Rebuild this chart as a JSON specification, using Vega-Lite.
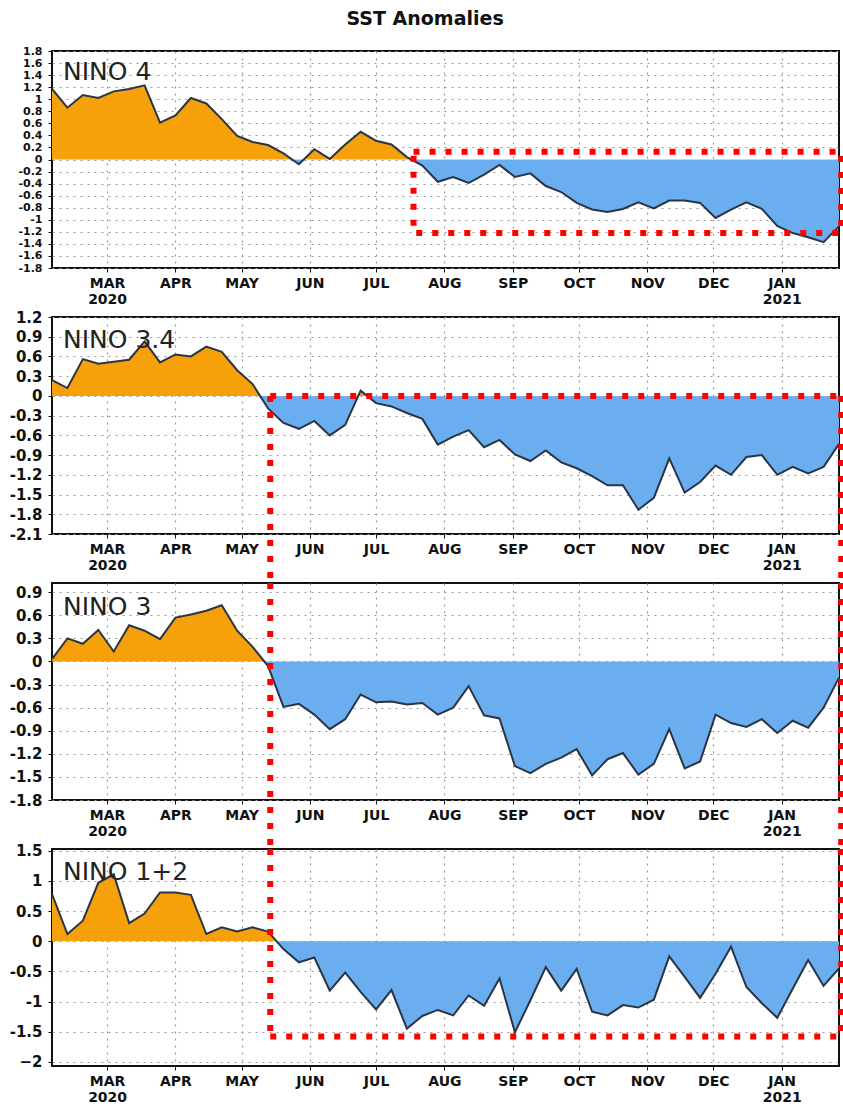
{
  "$schema": "https://vega.github.io/schema/vega-lite/v6.json",
  "padding": {"left": 5, "top": 10, "right": 0, "bottom": 0},
  "background": "white",
  "title": {"text": "SST Anomalies", "anchor": "middle", "fontSize": 19, "font": "DejaVu Sans", "fontWeight": "bold", "color": "#111", "offset": 15},
  "bounds": "flush",
  "spacing": 49,
  "datasets": {
    "n4": [
      {"date": "2020-02-05T00:00:00", "v": 1.17}, {"date": "2020-02-12T00:00:00", "v": 0.86}, {"date": "2020-02-19T00:00:00", "v": 1.07}, {"date": "2020-02-26T00:00:00", "v": 1.02},
      {"date": "2020-03-04T00:00:00", "v": 1.13}, {"date": "2020-03-11T00:00:00", "v": 1.17}, {"date": "2020-03-18T00:00:00", "v": 1.23}, {"date": "2020-03-25T00:00:00", "v": 0.61},
      {"date": "2020-04-01T00:00:00", "v": 0.73}, {"date": "2020-04-08T00:00:00", "v": 1.02}, {"date": "2020-04-15T00:00:00", "v": 0.93}, {"date": "2020-04-22T00:00:00", "v": 0.67},
      {"date": "2020-04-29T00:00:00", "v": 0.39}, {"date": "2020-05-06T00:00:00", "v": 0.29}, {"date": "2020-05-13T00:00:00", "v": 0.24}, {"date": "2020-05-20T00:00:00", "v": 0.10},
      {"date": "2020-05-27T00:00:00", "v": -0.08}, {"date": "2020-06-03T00:00:00", "v": 0.17}, {"date": "2020-06-10T00:00:00", "v": 0.01}, {"date": "2020-06-17T00:00:00", "v": 0.25},
      {"date": "2020-06-24T00:00:00", "v": 0.46}, {"date": "2020-07-01T00:00:00", "v": 0.31}, {"date": "2020-07-08T00:00:00", "v": 0.25}, {"date": "2020-07-15T00:00:00", "v": 0.04},
      {"date": "2020-07-22T00:00:00", "v": -0.10}, {"date": "2020-07-29T00:00:00", "v": -0.37}, {"date": "2020-08-05T00:00:00", "v": -0.29}, {"date": "2020-08-12T00:00:00", "v": -0.39},
      {"date": "2020-08-19T00:00:00", "v": -0.25}, {"date": "2020-08-26T00:00:00", "v": -0.09}, {"date": "2020-09-02T00:00:00", "v": -0.29}, {"date": "2020-09-09T00:00:00", "v": -0.23},
      {"date": "2020-09-16T00:00:00", "v": -0.44}, {"date": "2020-09-23T00:00:00", "v": -0.54}, {"date": "2020-09-30T00:00:00", "v": -0.72}, {"date": "2020-10-07T00:00:00", "v": -0.83},
      {"date": "2020-10-14T00:00:00", "v": -0.87}, {"date": "2020-10-21T00:00:00", "v": -0.82}, {"date": "2020-10-28T00:00:00", "v": -0.71}, {"date": "2020-11-04T00:00:00", "v": -0.81},
      {"date": "2020-11-11T00:00:00", "v": -0.68}, {"date": "2020-11-18T00:00:00", "v": -0.68}, {"date": "2020-11-25T00:00:00", "v": -0.72}, {"date": "2020-12-02T00:00:00", "v": -0.97},
      {"date": "2020-12-09T00:00:00", "v": -0.83}, {"date": "2020-12-16T00:00:00", "v": -0.71}, {"date": "2020-12-23T00:00:00", "v": -0.82}, {"date": "2020-12-30T00:00:00", "v": -1.10},
      {"date": "2021-01-06T00:00:00", "v": -1.22}, {"date": "2021-01-13T00:00:00", "v": -1.29}, {"date": "2021-01-20T00:00:00", "v": -1.37}, {"date": "2021-01-27T00:00:00", "v": -1.11}
    ],
    "n34": [
      {"date": "2020-02-05T00:00:00", "v": 0.24}, {"date": "2020-02-12T00:00:00", "v": 0.12}, {"date": "2020-02-19T00:00:00", "v": 0.56}, {"date": "2020-02-26T00:00:00", "v": 0.49},
      {"date": "2020-03-04T00:00:00", "v": 0.52}, {"date": "2020-03-11T00:00:00", "v": 0.55}, {"date": "2020-03-18T00:00:00", "v": 0.83}, {"date": "2020-03-25T00:00:00", "v": 0.51},
      {"date": "2020-04-01T00:00:00", "v": 0.63}, {"date": "2020-04-08T00:00:00", "v": 0.60}, {"date": "2020-04-15T00:00:00", "v": 0.75}, {"date": "2020-04-22T00:00:00", "v": 0.67},
      {"date": "2020-04-29T00:00:00", "v": 0.39}, {"date": "2020-05-06T00:00:00", "v": 0.18}, {"date": "2020-05-13T00:00:00", "v": -0.19}, {"date": "2020-05-20T00:00:00", "v": -0.41},
      {"date": "2020-05-27T00:00:00", "v": -0.50}, {"date": "2020-06-03T00:00:00", "v": -0.38}, {"date": "2020-06-10T00:00:00", "v": -0.60}, {"date": "2020-06-17T00:00:00", "v": -0.44},
      {"date": "2020-06-24T00:00:00", "v": 0.08}, {"date": "2020-07-01T00:00:00", "v": -0.11}, {"date": "2020-07-08T00:00:00", "v": -0.16}, {"date": "2020-07-15T00:00:00", "v": -0.26},
      {"date": "2020-07-22T00:00:00", "v": -0.35}, {"date": "2020-07-29T00:00:00", "v": -0.74}, {"date": "2020-08-05T00:00:00", "v": -0.62}, {"date": "2020-08-12T00:00:00", "v": -0.52},
      {"date": "2020-08-19T00:00:00", "v": -0.78}, {"date": "2020-08-26T00:00:00", "v": -0.67}, {"date": "2020-09-02T00:00:00", "v": -0.89}, {"date": "2020-09-09T00:00:00", "v": -0.99},
      {"date": "2020-09-16T00:00:00", "v": -0.83}, {"date": "2020-09-23T00:00:00", "v": -1.01}, {"date": "2020-09-30T00:00:00", "v": -1.10}, {"date": "2020-10-07T00:00:00", "v": -1.22},
      {"date": "2020-10-14T00:00:00", "v": -1.36}, {"date": "2020-10-21T00:00:00", "v": -1.36}, {"date": "2020-10-28T00:00:00", "v": -1.73}, {"date": "2020-11-04T00:00:00", "v": -1.55},
      {"date": "2020-11-11T00:00:00", "v": -0.95}, {"date": "2020-11-18T00:00:00", "v": -1.47}, {"date": "2020-11-25T00:00:00", "v": -1.31}, {"date": "2020-12-02T00:00:00", "v": -1.06},
      {"date": "2020-12-09T00:00:00", "v": -1.20}, {"date": "2020-12-16T00:00:00", "v": -0.93}, {"date": "2020-12-23T00:00:00", "v": -0.90}, {"date": "2020-12-30T00:00:00", "v": -1.20},
      {"date": "2021-01-06T00:00:00", "v": -1.08}, {"date": "2021-01-13T00:00:00", "v": -1.18}, {"date": "2021-01-20T00:00:00", "v": -1.08}, {"date": "2021-01-27T00:00:00", "v": -0.73}
    ],
    "n3": [
      {"date": "2020-02-05T00:00:00", "v": 0.03}, {"date": "2020-02-12T00:00:00", "v": 0.30}, {"date": "2020-02-19T00:00:00", "v": 0.23}, {"date": "2020-02-26T00:00:00", "v": 0.41},
      {"date": "2020-03-04T00:00:00", "v": 0.13}, {"date": "2020-03-11T00:00:00", "v": 0.47}, {"date": "2020-03-18T00:00:00", "v": 0.40}, {"date": "2020-03-25T00:00:00", "v": 0.29},
      {"date": "2020-04-01T00:00:00", "v": 0.57}, {"date": "2020-04-08T00:00:00", "v": 0.61}, {"date": "2020-04-15T00:00:00", "v": 0.66}, {"date": "2020-04-22T00:00:00", "v": 0.73},
      {"date": "2020-04-29T00:00:00", "v": 0.40}, {"date": "2020-05-06T00:00:00", "v": 0.19}, {"date": "2020-05-13T00:00:00", "v": -0.06}, {"date": "2020-05-20T00:00:00", "v": -0.59},
      {"date": "2020-05-27T00:00:00", "v": -0.55}, {"date": "2020-06-03T00:00:00", "v": -0.69}, {"date": "2020-06-10T00:00:00", "v": -0.88}, {"date": "2020-06-17T00:00:00", "v": -0.75},
      {"date": "2020-06-24T00:00:00", "v": -0.43}, {"date": "2020-07-01T00:00:00", "v": -0.53}, {"date": "2020-07-08T00:00:00", "v": -0.52}, {"date": "2020-07-15T00:00:00", "v": -0.56},
      {"date": "2020-07-22T00:00:00", "v": -0.54}, {"date": "2020-07-29T00:00:00", "v": -0.69}, {"date": "2020-08-05T00:00:00", "v": -0.60}, {"date": "2020-08-12T00:00:00", "v": -0.32},
      {"date": "2020-08-19T00:00:00", "v": -0.70}, {"date": "2020-08-26T00:00:00", "v": -0.74}, {"date": "2020-09-02T00:00:00", "v": -1.36}, {"date": "2020-09-09T00:00:00", "v": -1.45},
      {"date": "2020-09-16T00:00:00", "v": -1.33}, {"date": "2020-09-23T00:00:00", "v": -1.25}, {"date": "2020-09-30T00:00:00", "v": -1.14}, {"date": "2020-10-07T00:00:00", "v": -1.48},
      {"date": "2020-10-14T00:00:00", "v": -1.27}, {"date": "2020-10-21T00:00:00", "v": -1.19}, {"date": "2020-10-28T00:00:00", "v": -1.47}, {"date": "2020-11-04T00:00:00", "v": -1.33},
      {"date": "2020-11-11T00:00:00", "v": -0.88}, {"date": "2020-11-18T00:00:00", "v": -1.39}, {"date": "2020-11-25T00:00:00", "v": -1.30}, {"date": "2020-12-02T00:00:00", "v": -0.69},
      {"date": "2020-12-09T00:00:00", "v": -0.80}, {"date": "2020-12-16T00:00:00", "v": -0.85}, {"date": "2020-12-23T00:00:00", "v": -0.75}, {"date": "2020-12-30T00:00:00", "v": -0.93},
      {"date": "2021-01-06T00:00:00", "v": -0.77}, {"date": "2021-01-13T00:00:00", "v": -0.86}, {"date": "2021-01-20T00:00:00", "v": -0.60}, {"date": "2021-01-27T00:00:00", "v": -0.21}
    ],
    "n12": [
      {"date": "2020-02-05T00:00:00", "v": 0.78}, {"date": "2020-02-12T00:00:00", "v": 0.12}, {"date": "2020-02-19T00:00:00", "v": 0.34}, {"date": "2020-02-26T00:00:00", "v": 0.97},
      {"date": "2020-03-04T00:00:00", "v": 1.11}, {"date": "2020-03-11T00:00:00", "v": 0.30}, {"date": "2020-03-18T00:00:00", "v": 0.46}, {"date": "2020-03-25T00:00:00", "v": 0.81},
      {"date": "2020-04-01T00:00:00", "v": 0.81}, {"date": "2020-04-08T00:00:00", "v": 0.77}, {"date": "2020-04-15T00:00:00", "v": 0.12}, {"date": "2020-04-22T00:00:00", "v": 0.23},
      {"date": "2020-04-29T00:00:00", "v": 0.16}, {"date": "2020-05-06T00:00:00", "v": 0.23}, {"date": "2020-05-13T00:00:00", "v": 0.16}, {"date": "2020-05-20T00:00:00", "v": -0.13},
      {"date": "2020-05-27T00:00:00", "v": -0.35}, {"date": "2020-06-03T00:00:00", "v": -0.27}, {"date": "2020-06-10T00:00:00", "v": -0.82}, {"date": "2020-06-17T00:00:00", "v": -0.52},
      {"date": "2020-06-24T00:00:00", "v": -0.84}, {"date": "2020-07-01T00:00:00", "v": -1.13}, {"date": "2020-07-08T00:00:00", "v": -0.81}, {"date": "2020-07-15T00:00:00", "v": -1.45},
      {"date": "2020-07-22T00:00:00", "v": -1.24}, {"date": "2020-07-29T00:00:00", "v": -1.14}, {"date": "2020-08-05T00:00:00", "v": -1.23}, {"date": "2020-08-12T00:00:00", "v": -0.90},
      {"date": "2020-08-19T00:00:00", "v": -1.07}, {"date": "2020-08-26T00:00:00", "v": -0.62}, {"date": "2020-09-02T00:00:00", "v": -1.51}, {"date": "2020-09-09T00:00:00", "v": -0.98},
      {"date": "2020-09-16T00:00:00", "v": -0.43}, {"date": "2020-09-23T00:00:00", "v": -0.82}, {"date": "2020-09-30T00:00:00", "v": -0.46}, {"date": "2020-10-07T00:00:00", "v": -1.17},
      {"date": "2020-10-14T00:00:00", "v": -1.23}, {"date": "2020-10-21T00:00:00", "v": -1.06}, {"date": "2020-10-28T00:00:00", "v": -1.10}, {"date": "2020-11-04T00:00:00", "v": -0.97},
      {"date": "2020-11-11T00:00:00", "v": -0.25}, {"date": "2020-11-18T00:00:00", "v": -0.59}, {"date": "2020-11-25T00:00:00", "v": -0.94}, {"date": "2020-12-02T00:00:00", "v": -0.54},
      {"date": "2020-12-09T00:00:00", "v": -0.09}, {"date": "2020-12-16T00:00:00", "v": -0.76}, {"date": "2020-12-23T00:00:00", "v": -1.03}, {"date": "2020-12-30T00:00:00", "v": -1.27},
      {"date": "2021-01-06T00:00:00", "v": -0.79}, {"date": "2021-01-13T00:00:00", "v": -0.31}, {"date": "2021-01-20T00:00:00", "v": -0.74}, {"date": "2021-01-27T00:00:00", "v": -0.45}
    ]
  },
  "vconcat": [
    {
      "width": 787, "height": 217,
      "layer": [
        {"data": {"name": "n4"},
          "encoding": {
            "x": {"field": "date", "type": "temporal", "title": null,
              "scale": {"domain": [{"year": 2020, "month": 2, "date": 5}, {"year": 2021, "month": 1, "date": 27}]},
              "axis": {"tickCount": 50, "values": [{"year": 2020, "month": 3, "date": 1}, {"year": 2020, "month": 4, "date": 1}, {"year": 2020, "month": 5, "date": 1}, {"year": 2020, "month": 6, "date": 1}, {"year": 2020, "month": 7, "date": 1}, {"year": 2020, "month": 8, "date": 1}, {"year": 2020, "month": 9, "date": 1}, {"year": 2020, "month": 10, "date": 1}, {"year": 2020, "month": 11, "date": 1}, {"year": 2020, "month": 12, "date": 1}, {"year": 2021, "month": 1, "date": 1}],
                "labelExpr": "[upper(timeFormat(datum.value, '%b')), ((month(datum.value) == 2 && year(datum.value) == 2020) || month(datum.value) == 0) ? timeFormat(datum.value, '%Y') : '']"}},
            "y": {"field": "v", "type": "quantitative", "title": null,
              "scale": {"domain": [-1.8, 1.8], "nice": false, "zero": false},
              "axis": {"tickCount": 50, "values": [-1.8, -1.6, -1.4, -1.2, -1, -0.8, -0.6, -0.4, -0.2, 0, 0.2, 0.4, 0.6, 0.8, 1, 1.2, 1.4, 1.6, 1.8], "labelFontSize": 11, "labelOverlap": false, "labelExpr": "toString(datum.value)"}}},
          "layer": [
            {"mark": {"type": "area", "stroke": null, "fill": {"gradient": "linear", "x1": 0, "y1": 0, "x2": 0, "y2": 1, "stops": [{"offset": 0, "color": "#f7a10a"}, {"offset": 0.4731, "color": "#f7a10a"}, {"offset": 0.4731, "color": "#6aaef0"}, {"offset": 1, "color": "#6aaef0"}]}},
              "encoding": {"y2": {"datum": 0}}},
            {"mark": {"type": "line", "color": "#2a3544", "strokeWidth": 2}, "encoding": {}}
          ]},
        {"data": {"values": [{"a": 1}]},
          "mark": {"type": "text", "align": "left", "baseline": "alphabetic", "font": "DejaVu Sans", "fontSize": 25, "color": "#222"},
          "encoding": {"x": {"datum": {"year": 2020, "month": 2, "date": 10}, "type": "temporal"}, "y": {"datum": 1.32}, "text": {"value": "NINO  4"}}},
        {"data": {"values": [{"a": 1}]},
          "mark": {"type": "rect", "filled": false, "stroke": "#ff0000", "strokeWidth": 6, "strokeDash": [6, 10]},
          "encoding": {"x": {"datum": {"year": 2020, "month": 7, "date": 18}, "type": "temporal"}, "x2": {"datum": {"year": 2021, "month": 1, "date": 28}}, "y": {"datum": 0.13}, "y2": {"datum": -1.22}}}
      ]
    },
    {
      "width": 787, "height": 217,
      "layer": [
        {"data": {"name": "n34"},
          "encoding": {
            "x": {"field": "date", "type": "temporal", "title": null,
              "scale": {"domain": [{"year": 2020, "month": 2, "date": 5}, {"year": 2021, "month": 1, "date": 27}]},
              "axis": {"tickCount": 50, "values": [{"year": 2020, "month": 3, "date": 1}, {"year": 2020, "month": 4, "date": 1}, {"year": 2020, "month": 5, "date": 1}, {"year": 2020, "month": 6, "date": 1}, {"year": 2020, "month": 7, "date": 1}, {"year": 2020, "month": 8, "date": 1}, {"year": 2020, "month": 9, "date": 1}, {"year": 2020, "month": 10, "date": 1}, {"year": 2020, "month": 11, "date": 1}, {"year": 2020, "month": 12, "date": 1}, {"year": 2021, "month": 1, "date": 1}],
                "labelExpr": "[upper(timeFormat(datum.value, '%b')), ((month(datum.value) == 2 && year(datum.value) == 2020) || month(datum.value) == 0) ? timeFormat(datum.value, '%Y') : '']"}},
            "y": {"field": "v", "type": "quantitative", "title": null,
              "scale": {"domain": [-2.1, 1.2], "nice": false, "zero": false},
              "axis": {"tickCount": 50, "values": [-2.1, -1.8, -1.5, -1.2, -0.9, -0.6, -0.3, 0, 0.3, 0.6, 0.9, 1.2], "labelOverlap": false, "labelExpr": "toString(datum.value)"}}},
          "layer": [
            {"mark": {"type": "area", "stroke": null, "fill": {"gradient": "linear", "x1": 0, "y1": 0, "x2": 0, "y2": 1, "stops": [{"offset": 0, "color": "#f7a10a"}, {"offset": 0.3242, "color": "#f7a10a"}, {"offset": 0.3242, "color": "#6aaef0"}, {"offset": 1, "color": "#6aaef0"}]}},
              "encoding": {"y2": {"datum": 0}}},
            {"mark": {"type": "line", "color": "#2a3544", "strokeWidth": 2}, "encoding": {}}
          ]},
        {"data": {"values": [{"a": 1}]},
          "mark": {"type": "text", "align": "left", "baseline": "alphabetic", "font": "DejaVu Sans", "fontSize": 25, "color": "#222"},
          "encoding": {"x": {"datum": {"year": 2020, "month": 2, "date": 10}, "type": "temporal"}, "y": {"datum": 0.73}, "text": {"value": "NINO  3.4"}}},
        {"data": {"values": [{"a": 1}]},
          "mark": {"type": "rule", "stroke": "#ff0000", "strokeWidth": 6, "strokeDash": [6, 10]},
          "encoding": {"x": {"datum": {"year": 2020, "month": 5, "date": 14}, "type": "temporal"}, "x2": {"datum": {"year": 2021, "month": 1, "date": 28}}, "y": {"datum": 0}}},
        {"data": {"values": [{"a": 1}]},
          "mark": {"type": "rule", "stroke": "#ff0000", "strokeWidth": 6, "strokeDash": [6, 10]},
          "encoding": {"x": {"datum": {"year": 2020, "month": 5, "date": 14}, "type": "temporal"}, "y": {"datum": 0}, "y2": {"datum": -2.83}}},
        {"data": {"values": [{"a": 1}]},
          "mark": {"type": "rule", "stroke": "#ff0000", "strokeWidth": 6, "strokeDash": [6, 10]},
          "encoding": {"x": {"datum": {"year": 2021, "month": 1, "date": 28}, "type": "temporal"}, "y": {"datum": 0}, "y2": {"datum": -2.83}}}
      ]
    },
    {
      "width": 787, "height": 217,
      "layer": [
        {"data": {"name": "n3"},
          "encoding": {
            "x": {"field": "date", "type": "temporal", "title": null,
              "scale": {"domain": [{"year": 2020, "month": 2, "date": 5}, {"year": 2021, "month": 1, "date": 27}]},
              "axis": {"tickCount": 50, "values": [{"year": 2020, "month": 3, "date": 1}, {"year": 2020, "month": 4, "date": 1}, {"year": 2020, "month": 5, "date": 1}, {"year": 2020, "month": 6, "date": 1}, {"year": 2020, "month": 7, "date": 1}, {"year": 2020, "month": 8, "date": 1}, {"year": 2020, "month": 9, "date": 1}, {"year": 2020, "month": 10, "date": 1}, {"year": 2020, "month": 11, "date": 1}, {"year": 2020, "month": 12, "date": 1}, {"year": 2021, "month": 1, "date": 1}],
                "labelExpr": "[upper(timeFormat(datum.value, '%b')), ((month(datum.value) == 2 && year(datum.value) == 2020) || month(datum.value) == 0) ? timeFormat(datum.value, '%Y') : '']"}},
            "y": {"field": "v", "type": "quantitative", "title": null,
              "scale": {"domain": [-1.8, 1.02], "nice": false, "zero": false},
              "axis": {"tickCount": 50, "values": [-1.8, -1.5, -1.2, -0.9, -0.6, -0.3, 0, 0.3, 0.6, 0.9], "labelOverlap": false, "labelExpr": "toString(datum.value)"}}},
          "layer": [
            {"mark": {"type": "area", "stroke": null, "fill": {"gradient": "linear", "x1": 0, "y1": 0, "x2": 0, "y2": 1, "stops": [{"offset": 0, "color": "#f7a10a"}, {"offset": 0.3303, "color": "#f7a10a"}, {"offset": 0.3303, "color": "#6aaef0"}, {"offset": 1, "color": "#6aaef0"}]}},
              "encoding": {"y2": {"datum": 0}}},
            {"mark": {"type": "line", "color": "#2a3544", "strokeWidth": 2}, "encoding": {}}
          ]},
        {"data": {"values": [{"a": 1}]},
          "mark": {"type": "text", "align": "left", "baseline": "alphabetic", "font": "DejaVu Sans", "fontSize": 25, "color": "#222"},
          "encoding": {"x": {"datum": {"year": 2020, "month": 2, "date": 10}, "type": "temporal"}, "y": {"datum": 0.61}, "text": {"value": "NINO  3"}}},
        {"data": {"values": [{"a": 1}]},
          "mark": {"type": "rule", "stroke": "#ff0000", "strokeWidth": 6, "strokeDash": [6, 10]},
          "encoding": {"x": {"datum": {"year": 2020, "month": 5, "date": 14}, "type": "temporal"}, "y": {"datum": 1.02}, "y2": {"datum": -2.45}}},
        {"data": {"values": [{"a": 1}]},
          "mark": {"type": "rule", "stroke": "#ff0000", "strokeWidth": 6, "strokeDash": [6, 10]},
          "encoding": {"x": {"datum": {"year": 2021, "month": 1, "date": 28}, "type": "temporal"}, "y": {"datum": 1.02}, "y2": {"datum": -2.45}}}
      ]
    },
    {
      "width": 787, "height": 217,
      "layer": [
        {"data": {"name": "n12"},
          "encoding": {
            "x": {"field": "date", "type": "temporal", "title": null,
              "scale": {"domain": [{"year": 2020, "month": 2, "date": 5}, {"year": 2021, "month": 1, "date": 27}]},
              "axis": {"tickCount": 50, "values": [{"year": 2020, "month": 3, "date": 1}, {"year": 2020, "month": 4, "date": 1}, {"year": 2020, "month": 5, "date": 1}, {"year": 2020, "month": 6, "date": 1}, {"year": 2020, "month": 7, "date": 1}, {"year": 2020, "month": 8, "date": 1}, {"year": 2020, "month": 9, "date": 1}, {"year": 2020, "month": 10, "date": 1}, {"year": 2020, "month": 11, "date": 1}, {"year": 2020, "month": 12, "date": 1}, {"year": 2021, "month": 1, "date": 1}],
                "labelExpr": "[upper(timeFormat(datum.value, '%b')), ((month(datum.value) == 2 && year(datum.value) == 2020) || month(datum.value) == 0) ? timeFormat(datum.value, '%Y') : '']"}},
            "y": {"field": "v", "type": "quantitative", "title": null,
              "scale": {"domain": [-2.07, 1.53], "nice": false, "zero": false},
              "axis": {"tickCount": 50, "values": [-2, -1.5, -1, -0.5, 0, 0.5, 1, 1.5], "labelOverlap": false, "labelExpr": "datum.value == -2 ? '\u22122' : toString(datum.value)"}}},
          "layer": [
            {"mark": {"type": "area", "stroke": null, "fill": {"gradient": "linear", "x1": 0, "y1": 0, "x2": 0, "y2": 1, "stops": [{"offset": 0, "color": "#f7a10a"}, {"offset": 0.4237, "color": "#f7a10a"}, {"offset": 0.4237, "color": "#6aaef0"}, {"offset": 1, "color": "#6aaef0"}]}},
              "encoding": {"y2": {"datum": 0}}},
            {"mark": {"type": "line", "color": "#2a3544", "strokeWidth": 2}, "encoding": {}}
          ]},
        {"data": {"values": [{"a": 1}]},
          "mark": {"type": "text", "align": "left", "baseline": "alphabetic", "font": "DejaVu Sans", "fontSize": 25, "color": "#222"},
          "encoding": {"x": {"datum": {"year": 2020, "month": 2, "date": 10}, "type": "temporal"}, "y": {"datum": 1.01}, "text": {"value": "NINO  1+2"}}},
        {"data": {"values": [{"a": 1}]},
          "mark": {"type": "rule", "stroke": "#ff0000", "strokeWidth": 6, "strokeDash": [6, 10]},
          "encoding": {"x": {"datum": {"year": 2020, "month": 5, "date": 14}, "type": "temporal"}, "y": {"datum": 1.53}, "y2": {"datum": -1.58}}},
        {"data": {"values": [{"a": 1}]},
          "mark": {"type": "rule", "stroke": "#ff0000", "strokeWidth": 6, "strokeDash": [6, 10]},
          "encoding": {"x": {"datum": {"year": 2021, "month": 1, "date": 28}, "type": "temporal"}, "y": {"datum": 1.53}, "y2": {"datum": -1.58}}},
        {"data": {"values": [{"a": 1}]},
          "mark": {"type": "rule", "stroke": "#ff0000", "strokeWidth": 6, "strokeDash": [6, 10]},
          "encoding": {"x": {"datum": {"year": 2020, "month": 5, "date": 14}, "type": "temporal"}, "x2": {"datum": {"year": 2021, "month": 1, "date": 28}}, "y": {"datum": -1.58}}}
      ]
    }
  ],
  "config": {
    "font": "DejaVu Sans",
    "view": {"stroke": "#111", "strokeWidth": 2},
    "axis": {"labelFont": "DejaVu Sans", "labelFontWeight": "bold", "labelColor": "#111", "domain": false, "tickColor": "#111", "tickSize": 4, "grid": true, "gridColor": "#9a9a9a", "gridDash": [2, 5], "gridWidth": 1.2},
    "axisX": {"labelFontSize": 14, "labelPadding": 4, "labelLineHeight": 16, "labelOverlap": false},
    "axisY": {"labelFontSize": 15, "labelPadding": 6, "minExtent": 46, "maxExtent": 46, "labelOverlap": false}
  }
}
